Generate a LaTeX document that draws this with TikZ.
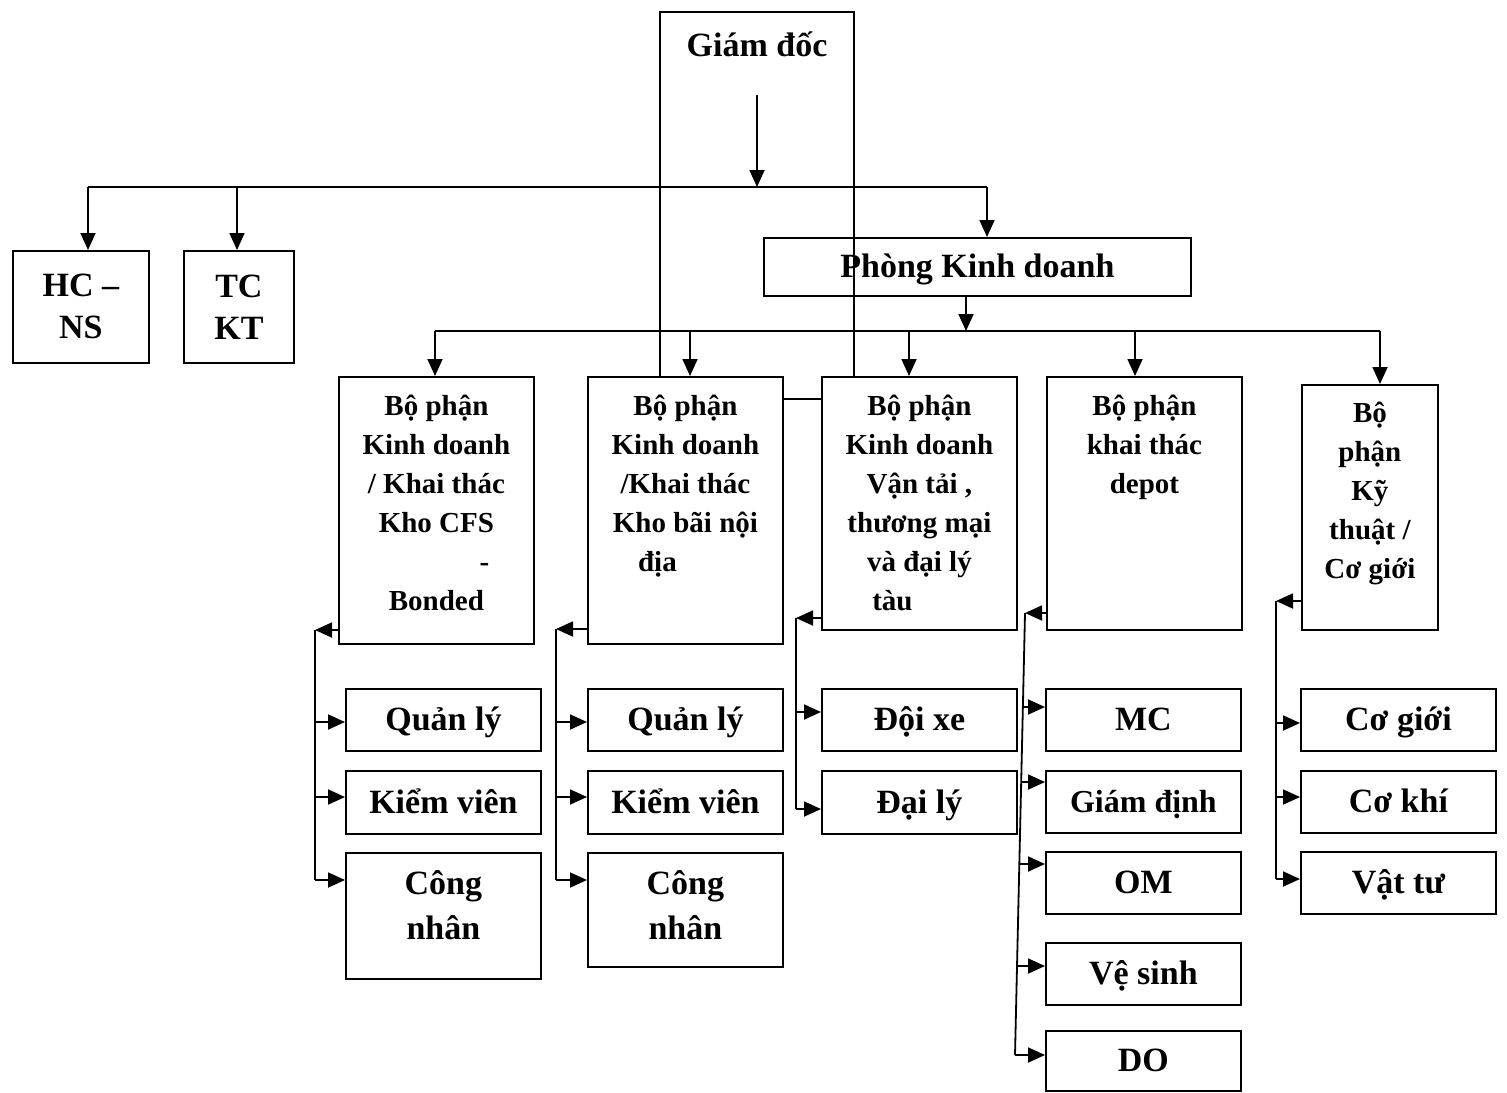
\documentclass[tikz,border=0pt]{standalone}
\usepackage{fontspec}
\setmainfont{Liberation Serif}
\usepackage{tikz}
\usetikzlibrary{positioning,arrows.meta}
\tikzset{
  box/.style={draw, line width=0.9pt, inner sep=0pt, anchor=north west},
  line/.style={draw, line width=0.9pt},
  arr/.style={line, -{Triangle[length=8.5pt,width=7.5pt]}},
  big/.style={font=\fontsize{17}{21}\selectfont\bfseries, align=center},
  mid/.style={font=\fontsize{16}{20}\selectfont\bfseries, align=center},
  one/.style={text height=14pt, text depth=3pt},
  bp/.style={font=\fontsize{14.5}{19.5}\selectfont\bfseries, align=center, inner sep=0pt},
}

\begin{document}
\begin{tikzpicture}[x=0.5pt, y=-0.5pt]
  \useasboundingbox (0,0) rectangle (1507,1092);

  % top level
  \node[box, big, minimum width=68pt, minimum height=56pt] (hc) at (12,250) {HC --\\NS};
  \node[box, big, minimum width=55pt, minimum height=56pt] (tc) at (183,250) {TC\\KT};
  \node[box, big, one, minimum width=213.5pt, minimum height=29pt] (pkd) at (763,237) {Phòng Kinh doanh};

  % departments
  \node[box, minimum width=97.5pt, minimum height=133.5pt] (b1) at (338,376) {};
  \node[box, minimum width=97.5pt, minimum height=133.5pt] (b2) at (587,376) {};
  \node[box, minimum width=97.5pt, minimum height=126.5pt] (b3) at (821,376) {};
  \node[box, minimum width=97.5pt, minimum height=126.5pt] (b4) at (1046,376) {};
  \node[box, minimum width=68pt, minimum height=122.5pt] (b5) at (1301,384) {};
  \node[bp, below=9.5pt of b1.north] (b1t) {Bộ phận\\Kinh doanh\\/ Khai thác\\Kho CFS\\\hspace*{48pt}-\\Bonded};
  \node[bp, below=9.5pt of b2.north] (b2t) {Bộ phận\\Kinh doanh\\/Khai thác\\Kho bãi nội\\địa\hspace*{28pt}};
  \node[bp, below=9.5pt of b3.north] (b3t) {Bộ phận\\Kinh doanh\\Vận tải ,\\thương mại\\và đại lý\\tàu\hspace*{27pt}};
  \node[bp, below=9.5pt of b4.north] (b4t) {Bộ phận\\khai thác\\depot};
  \node[bp, below=9pt of b5.north] (b5t) {Bộ\\phận\\Kỹ\\thuật /\\Cơ giới};

  % teams
  \node[box, big, one, minimum width=97.5pt, minimum height=31pt] (ql1) at (345,688) {Quản lý};
  \node[box, big, one, minimum width=97.5pt, minimum height=31.5pt] (kv1) at (345,770) {Kiểm viên};
  \node[box, minimum width=97.5pt, minimum height=63pt] (cn1) at (345,852) {};
  \node[box, big, one, minimum width=97.5pt, minimum height=31pt] (ql2) at (587,688) {Quản lý};
  \node[box, big, one, minimum width=97.5pt, minimum height=31.5pt] (kv2) at (587,770) {Kiểm viên};
  \node[box, minimum width=97.5pt, minimum height=57pt] (cn2) at (587,852) {};
  \node[big, inner sep=0pt, font=\fontsize{17}{22.5}\selectfont\bfseries, below=9pt of cn1.north] (cn1t) {Công\\nhân};
  \node[big, inner sep=0pt, font=\fontsize{17}{22.5}\selectfont\bfseries, below=9pt of cn2.north] (cn2t) {Công\\nhân};
  \node[box, big, one, minimum width=97.5pt, minimum height=31pt] (dx) at (821,688) {Đội xe};
  \node[box, big, one, minimum width=97.5pt, minimum height=31.5pt] (dl) at (821,770) {Đại lý};
  \node[box, big, one, minimum width=97.5pt, minimum height=31pt] (mc) at (1045,688) {MC};
  \node[box, mid, one, minimum width=97.5pt, minimum height=31pt] (gdi) at (1045,770) {Giám định};
  \node[box, big, one, minimum width=97.5pt, minimum height=31pt] (om) at (1045,851) {OM};
  \node[box, big, one, minimum width=97.5pt, minimum height=31pt] (vs) at (1045,942) {Vệ sinh};
  \node[box, big, one, minimum width=97.5pt, minimum height=30pt] (dob) at (1045,1030) {DO};
  \node[box, big, one, minimum width=97.5pt, minimum height=31pt] (cg) at (1300,688) {Cơ giới};
  \node[box, big, one, minimum width=97.5pt, minimum height=31pt] (ck) at (1300,770) {Cơ khí};
  \node[box, big, one, minimum width=97.5pt, minimum height=31pt] (vt) at (1300,851) {Vật tư};

  % director frame, open at the bottom
  \coordinate (gdl) at (660,12);
  \coordinate (gdr) at (854,12);
  \draw[line] (gdl |- b2.north) -- (gdl) -- (gdr) -- (gdr |- b3.north);
  \node[big, anchor=base] (gdt) at (757,56) {Giám đốc};
  \draw[line] ([yshift=-11.5pt]b2.north east) -- ([yshift=-11.5pt]b3.north west);

  % upper bus
  \coordinate (g0) at (757,95);
  \coordinate (g1) at (757,187);
  \draw[arr] (g0) -- (g1);
  \coordinate (t1) at (88,187);
  \coordinate (t2) at (237,187);
  \coordinate (t3) at (987,187);
  \draw[line] (t1) -- (t3);
  \foreach \t/\n in {t1/hc, t2/tc, t3/pkd}
    \draw[arr] (\t) -- (\t |- \n.north);

  % lower bus
  \coordinate (p0) at (966,331);
  \draw[arr] (p0 |- pkd.south) -- (p0);
  \coordinate (u1) at (435,331);
  \coordinate (u2) at (690,331);
  \coordinate (u3) at (909,331);
  \coordinate (u4) at (1135,331);
  \coordinate (u5) at (1380,331);
  \draw[line] (u1) -- (u5);
  \foreach \u/\n in {u1/b1, u2/b2, u3/b3, u4/b4, u5/b5}
    \draw[arr] (\u) -- (\u |- \n.north);

  % side feeders
  \coordinate (s1) at (315,630);
  \draw[arr] (s1 -| b1.west) -- (s1);
  \draw[line] (s1) -- (315,880);
  \foreach \n/\y in {ql1/722, kv1/797, cn1/880}
    \draw[arr] (315,\y) -- (\n.west |- 0,\y);

  \coordinate (s2) at (556,629);
  \draw[arr] (s2 -| b2.west) -- (s2);
  \draw[line] (s2) -- (556,880);
  \foreach \n/\y in {ql2/722, kv2/797, cn2/880}
    \draw[arr] (556,\y) -- (\n.west |- 0,\y);

  \coordinate (s3) at (796,618);
  \draw[arr] (s3 -| b3.west) -- (s3);
  \draw[line] (s3) -- (796,809);
  \foreach \n/\y in {dx/712, dl/809}
    \draw[arr] (796,\y) -- (\n.west |- 0,\y);

  \coordinate (s4) at (1025,613);
  \coordinate (e4) at (1015,1055);
  \draw[arr] (s4 -| b4.west) -- (s4);
  \draw[line] (s4) -- (e4);
  \foreach \n/\x/\y in {mc/1023/707, gdi/1021/782, om/1019/864, vs/1017/966, dob/1015/1055}
    \draw[arr] (\x,\y) -- (\n.west |- 0,\y);

  \coordinate (s5) at (1276,601);
  \draw[arr] (s5 -| b5.west) -- (s5);
  \draw[line] (s5) -- (1276,879);
  \foreach \n/\y in {cg/723, ck/797, vt/879}
    \draw[arr] (1276,\y) -- (\n.west |- 0,\y);
\end{tikzpicture}
\end{document}
